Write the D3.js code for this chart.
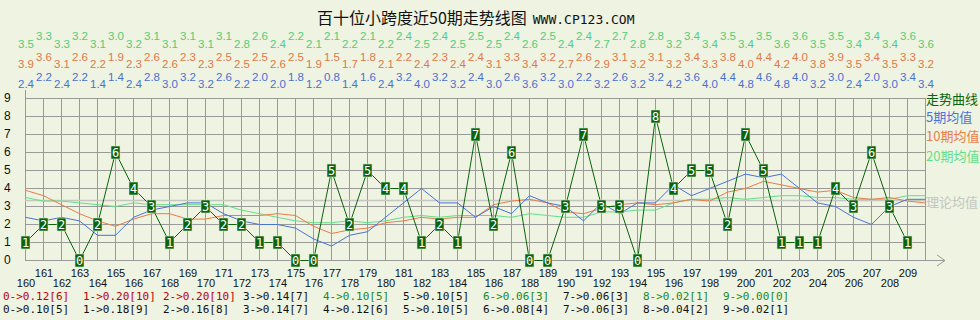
<!DOCTYPE html>
<html>
<head>
<meta charset="utf-8">
<script src="https://cdn.jsdelivr.net/npm/d3@7"></script>
<style>
  html, body { margin: 0; padding: 0; background: #eef3e2; }
  #chart { width: 980px; height: 320px; }
</style>
</head>
<body>
<div id="chart"></div>
<script>
// periods 160..209, one value each
const firstPeriod = 160;
const values = [1,2,2,0,2,6,4,3,1,2, 3,2,2,1,1,0,0,5,2,5, 4,4,1,2,1,7,2,6,0,0,
                3,7,3,3,0,8,4,5,5,2, 7,5,1,1,1,4,3,6,3,1];

// moving averages have one extra point (the next period)
const avg5 = [2.4,2.2,2.4,2.2,1.4,1.4,2.4,2.8,3.0,3.2,3.2,2.6,2.2,2.0,2.0,1.8,1.2,
              0.8,1.4,1.6,2.4,3.2,4.0,3.2,3.2,2.4,3.0,2.6,3.6,3.2,3.0,2.2,3.2,2.6,3.2,
              3.2,4.2,3.6,4.0,4.4,4.8,4.6,4.8,4.0,3.2,3.0,2.4,2.0,3.0,3.4,3.4];
const avg10 = [3.9,3.6,3.1,2.6,2.2,1.9,2.3,2.6,2.6,2.3,2.3,2.5,2.5,2.5,2.6,2.5,1.9,
               1.5,1.7,1.8,2.1,2.2,2.4,2.3,2.4,2.4,3.1,3.3,3.4,3.2,2.7,2.6,2.9,3.1,3.2,
               3.1,3.2,3.4,3.3,3.8,4.0,4.4,4.2,4.0,3.8,3.9,3.5,3.4,3.5,3.3,3.2];
const avg20 = [3.5,3.3,3.3,3.2,3.1,3.0,3.2,3.1,3.1,3.1,3.1,3.1,2.8,2.6,2.4,2.2,2.1,
               2.1,2.2,2.1,2.2,2.4,2.5,2.4,2.5,2.5,2.5,2.4,2.6,2.5,2.4,2.4,2.7,2.7,2.8,
               2.8,3.2,3.4,3.4,3.5,3.4,3.5,3.6,3.6,3.5,3.5,3.4,3.4,3.4,3.6,3.6];

const digits = [0,1,2,3,4,5,6,7,8,9];
const observedCounts = [6,10,10,7,5,5,3,3,1,0];
const theoryCounts = [5,9,8,7,6,5,4,3,2,1];

const titleCn = '百十位小跨度近50期走势线图';
const titleUrl = 'WWW.CP123.COM';
const legendLabels = ['走势曲线', '5期均值', '10期均值', '20期均值', '理论均值'];

class TrendChart {
  constructor(container, config) {
    this.container = container;
    let defaults = {
      width: 980,
      height: 320,
      left: 25,
      right: 925,
      top: 98,
      bottom: 260,
      gridColor: '#9a9a98',
      markColor: '#0b640b',
      colors: {
        main: '#0b640b',
        avg5: '#4a74d8',
        avg10: '#ec7c48',
        avg20: '#62e088',
        theory: '#c4c6c0'
      }
    };
    Object.assign(this, defaults, config);
    this.init();
  }

  init() {
    this.drawSvg();
    this.setScales();
    this.drawGrid();
    this.drawTitle();
    this.drawTopLabels();
    this.drawAverages();
    this.drawMain();
    this.drawLegend();
    this.drawStats();
  }

  drawSvg() {
    this.svg = d3.select(this.container).append('svg')
      .attr('width', this.width)
      .attr('height', this.height)
      .attr('viewBox', `0 0 ${this.width} ${this.height}`);
    this.svg.append('rect')
      .attr('width', this.width).attr('height', this.height)
      .attr('fill', '#eef3e2');
  }

  setScales() {
    this.x = d3.scaleLinear()
      .domain([firstPeriod, firstPeriod + values.length])
      .range([this.left, this.right]);
    this.y = d3.scaleLinear().domain([0, 9]).range([this.bottom, this.top]);
  }

  drawGrid() {
    let g = this.svg.append('g').attr('class', 'grid');
    let periods = d3.range(firstPeriod, firstPeriod + values.length + 1);

    g.selectAll('line.v').data(periods).join('line')
      .attr('class', 'v')
      .attr('x1', d => this.x(d) + 0.5).attr('x2', d => this.x(d) + 0.5)
      .attr('y1', this.y(9)).attr('y2', this.y(0))
      .attr('stroke', this.gridColor);

    g.selectAll('line.h').data(d3.range(0, 10)).join('line')
      .attr('class', 'h')
      .attr('x1', this.left).attr('x2', this.right)
      .attr('y1', d => this.y(d) + 0.5).attr('y2', d => this.y(d) + 0.5)
      .attr('stroke', this.gridColor);

    // y axis goes a bit above the top gridline, x axis runs out to an arrow
    g.append('line')
      .attr('x1', this.left + 0.5).attr('x2', this.left + 0.5)
      .attr('y1', this.top - 8).attr('y2', this.bottom)
      .attr('stroke', this.gridColor);
    g.append('line')
      .attr('x1', this.right).attr('x2', this.right + 20)
      .attr('y1', this.bottom + 0.5).attr('y2', this.bottom + 0.5)
      .attr('stroke', this.gridColor);
    g.append('path')
      .attr('d', `M${this.right + 12},${this.bottom - 5} L${this.right + 20},${this.bottom + 0.5} L${this.right + 12},${this.bottom + 6}`)
      .attr('fill', 'none')
      .attr('stroke', this.gridColor);

    g.selectAll('text.ylab').data(d3.range(0, 10)).join('text')
      .attr('class', 'ylab')
      .attr('x', 4)
      .attr('y', d => this.y(d) + 4)
      .attr('font-family', 'Liberation Sans, Arial, sans-serif')
      .attr('font-size', '12px')
      .attr('fill', '#111')
      .text(d => d);

    let xTicks = d3.range(firstPeriod, firstPeriod + values.length);
    g.selectAll('text.xlab').data(xTicks).join('text')
      .attr('class', 'xlab')
      .attr('x', d => this.x(d) + 1)
      .attr('y', d => (d % 2 ? 277 : 287))
      .attr('text-anchor', 'middle')
      .attr('font-family', 'Liberation Sans, Arial, sans-serif')
      .attr('font-size', '11px')
      .attr('fill', '#111')
      .text(d => d);
  }

  drawTitle() {
    let t = this.svg.append('text')
      .attr('x', 317).attr('y', 24)
      .attr('fill', '#111');
    t.append('tspan')
      .attr('font-family', 'Noto Sans CJK SC, sans-serif')
      .attr('font-size', '16px')
      .text(titleCn);
    t.append('tspan')
      .attr('dx', 6)
      .attr('font-family', 'DejaVu Sans Mono, monospace')
      .attr('font-size', '13px')
      .text(titleUrl);
  }

  drawTopLabels() {
    let rows = [
      { data: avg20, color: '#55cc77', up: 40, down: 48 },
      { data: avg10, color: '#e07848', up: 61, down: 68 },
      { data: avg5, color: '#4a70d0', up: 81, down: 88 }
    ];
    rows.forEach(row => {
      this.svg.append('g').selectAll('text').data(row.data).join('text')
        .attr('x', (d, i) => this.x(firstPeriod + i) + 1)
        .attr('y', (d, i) => (i % 2 ? row.up : row.down))
        .attr('text-anchor', 'middle')
        .attr('font-family', 'Liberation Sans, Arial, sans-serif')
        .attr('font-size', '11.5px')
        .attr('fill', row.color)
        .text(d => d.toFixed(1));
    });
  }

  drawAverages() {
    let line = d3.line()
      .x((d, i) => this.x(firstPeriod + i) + 0.5)
      .y(d => this.y(d) + 0.5);

    let theoryMean = d3.sum(digits, (d, i) => d * theoryCounts[i]) / d3.sum(theoryCounts);
    this.theoryY = this.y(theoryMean);
    this.svg.append('line')
      .attr('x1', this.left).attr('x2', this.right)
      .attr('y1', this.theoryY).attr('y2', this.theoryY)
      .attr('stroke', this.colors.theory)
      .attr('stroke-width', 1.5);

    [[avg20, this.colors.avg20], [avg10, this.colors.avg10], [avg5, this.colors.avg5]]
      .forEach(([data, color]) => {
        this.svg.append('path')
          .attr('d', line(data))
          .attr('fill', 'none')
          .attr('stroke', color)
          .attr('stroke-width', 1);
      });
  }

  drawMain() {
    let line = d3.line()
      .x((d, i) => this.x(firstPeriod + i) + 0.5)
      .y(d => this.y(d) + 0.5);
    this.svg.append('path')
      .attr('d', line(values))
      .attr('fill', 'none')
      .attr('stroke', this.colors.main)
      .attr('stroke-width', 1);

    let marks = this.svg.append('g').selectAll('g').data(values).join('g')
      .attr('transform', (d, i) => `translate(${this.x(firstPeriod + i) + 0.5}, ${this.y(d) + 0.5})`);
    marks.append('rect')
      .attr('x', -4.5).attr('y', -6.5)
      .attr('width', 9).attr('height', 13)
      .attr('fill', this.markColor)
      .attr('stroke', '#d8e8d0')
      .attr('stroke-width', 0.6);
    marks.append('text')
      .attr('text-anchor', 'middle')
      .attr('y', 4.5)
      .attr('font-family', 'DejaVu Sans Mono, monospace')
      .attr('font-size', '12px')
      .attr('fill', '#fff')
      .text(d => d);
  }

  drawLegend() {
    let items = [
      { label: legendLabels[0], color: this.colors.main, y: 103.5 },
      { label: legendLabels[1], color: this.colors.avg5, y: 122 },
      { label: legendLabels[2], color: this.colors.avg10, y: 141 },
      { label: legendLabels[3], color: this.colors.avg20, y: 161 },
      { label: legendLabels[4], color: this.colors.theory, y: this.theoryY + 6 }
    ];
    this.svg.append('g').selectAll('text').data(items).join('text')
      .attr('x', 926)
      .attr('y', d => d.y)
      .attr('font-family', 'Noto Sans CJK SC, sans-serif')
      .attr('font-size', '13px')
      .attr('fill', d => d.color)
      .text(d => d.label);
  }

  drawStats() {
    let total = d3.sum(observedCounts);
    let theoryTotal = d3.sum(theoryCounts);
    let g = this.svg.append('g')
      .attr('font-family', 'DejaVu Sans Mono, monospace')
      .attr('font-size', '11px');

    g.selectAll('text.obs').data(digits).join('text')
      .attr('class', 'obs')
      .attr('x', d => 3 + d * 80)
      .attr('y', 300)
      .attr('fill', (d, i) => {
        if (observedCounts[i] > theoryCounts[i]) return '#c00000';
        if (observedCounts[i] < theoryCounts[i]) return '#1c8a1c';
        return '#111';
      })
      .text((d, i) => `${d}->${(observedCounts[i] / total).toFixed(2)}[${observedCounts[i]}]`);

    g.selectAll('text.theory').data(digits).join('text')
      .attr('class', 'theory')
      .attr('x', d => 3 + d * 80)
      .attr('y', 313)
      .attr('fill', '#111')
      .text((d, i) => `${d}->${(theoryCounts[i] / theoryTotal).toFixed(2)}[${theoryCounts[i]}]`);
  }
}

new TrendChart(document.getElementById('chart'));
</script>
</body>
</html>
